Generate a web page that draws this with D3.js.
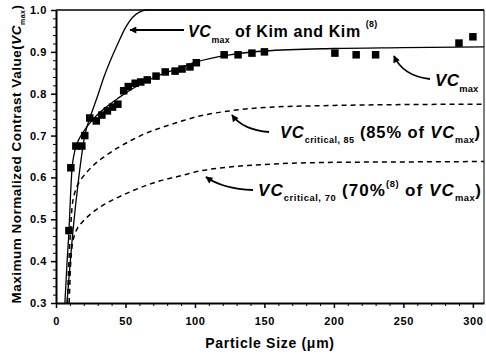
<!DOCTYPE html>
<html>
<head>
<meta charset="utf-8">
<script src="https://cdn.jsdelivr.net/npm/d3@7"></script>
<style>
  body { margin: 0; background: #fff; }
  text { font-family: "Liberation Sans", Arial, sans-serif; font-weight: bold; fill: #000; }
</style>
</head>
<body>
<svg id="chart" width="486" height="354"></svg>
<script>
// measured points (particle size in um, normalized contrast value)
const particleSize = [9.3, 10.7, 14.3, 18.6, 20.7, 24.3, 29, 33, 37, 40.7, 44.5, 48.7, 52, 57, 61, 65.7,
  72, 78.6, 85.7, 90.7, 96.4, 101, 121, 131, 141, 150, 200.7, 216, 230, 290, 300];
const vcMax = [0.473, 0.623, 0.675, 0.675, 0.70, 0.742, 0.735, 0.749, 0.759, 0.768, 0.775, 0.807, 0.817,
  0.825, 0.828, 0.833, 0.842, 0.852, 0.854, 0.859, 0.864, 0.874, 0.893, 0.893, 0.897, 0.90, 0.897,
  0.893, 0.893, 0.921, 0.936];

// fitted VCmax curve
const fitCurve = [[6.4, 0.30], [8, 0.40], [9.3, 0.47], [10.5, 0.56], [11.5, 0.62], [13, 0.655], [15, 0.68],
  [18, 0.70], [22, 0.72], [27, 0.74], [35, 0.765], [45, 0.79], [55, 0.812], [65, 0.83], [75, 0.845],
  [90, 0.863], [100, 0.875], [125, 0.893], [150, 0.902], [200, 0.908], [250, 0.91], [308, 0.912]];

// VCmax of Kim and Kim
const kimCurve = [[7.9, 0.30], [12.1, 0.468], [16.4, 0.60], [20.7, 0.70], [25, 0.748], [30, 0.795],
  [34.3, 0.838], [39, 0.878], [44.3, 0.918], [50, 0.958], [55, 0.982], [60, 0.995], [65, 1.0], [308, 1.0]];

// VCcritical, 85
const crit85Curve = [[8.2, 0.30], [9.3, 0.40], [10.5, 0.476], [11.5, 0.527], [13, 0.557], [15, 0.578],
  [18, 0.595], [22, 0.612], [27, 0.629], [35, 0.650], [45, 0.672], [55, 0.690], [65, 0.706], [75, 0.718],
  [90, 0.734], [100, 0.744], [125, 0.759], [150, 0.767], [200, 0.772], [250, 0.774], [308, 0.775]];

// VCcritical, 70
const crit70Curve = [[9.5, 0.30], [10.5, 0.392], [11.5, 0.434], [13, 0.459], [15, 0.476], [18, 0.49],
  [22, 0.504], [27, 0.518], [35, 0.536], [45, 0.553], [55, 0.568], [65, 0.581], [75, 0.592], [90, 0.604],
  [100, 0.613], [125, 0.625], [150, 0.631], [200, 0.636], [250, 0.637], [308, 0.638]];

const xTicks = [0, 50, 100, 150, 200, 250, 300];
const yTicks = [0.3, 0.4, 0.5, 0.6, 0.7, 0.8, 0.9, 1.0];

const svg = d3.select('#chart');

const x = d3.scaleLinear().domain([0, 308]).range([56, 484]);
const y = d3.scaleLinear().domain([0.3, 1.0]).range([303, 10]);

// minor ticks
const xMinor = d3.range(0, 308, 10).filter(v => xTicks.indexOf(v) < 0);
const yMinor = d3.range(0.32, 1.0, 0.02).filter(v => yTicks.every(t => Math.abs(t - v) > 0.001));

svg.append('g')
  .attr('transform', 'translate(0,' + y(0.3) + ')')
  .call(d3.axisBottom(x).tickValues(xMinor).tickSize(3).tickFormat(''))
  .call(g => g.select('.domain').remove());
svg.append('g')
  .attr('transform', 'translate(' + x(0) + ',0)')
  .call(d3.axisLeft(y).tickValues(yMinor).tickSize(3).tickFormat(''))
  .call(g => g.select('.domain').remove());

// major axes
const xAxis = svg.append('g')
  .attr('transform', 'translate(0,' + y(0.3) + ')')
  .call(d3.axisBottom(x).tickValues(xTicks).tickSize(5).tickPadding(9).tickSizeOuter(0));
xAxis.select('.domain').attr('stroke-width', 2);
xAxis.selectAll('.tick line').attr('stroke-width', 1.5);
xAxis.selectAll('text').attr('font-size', 11).attr('letter-spacing', 0.6);

const yAxis = svg.append('g')
  .attr('transform', 'translate(' + x(0) + ',0)')
  .call(d3.axisLeft(y).tickValues(yTicks).tickSize(5).tickPadding(4).tickSizeOuter(0)
    .tickFormat(d3.format('.1f')));
yAxis.select('.domain').attr('stroke-width', 2);
yAxis.selectAll('.tick line').attr('stroke-width', 1.5);
yAxis.selectAll('text').attr('font-size', 11).attr('letter-spacing', 0.6);

// frame top and right
svg.append('line').attr('x1', x(0)).attr('x2', x(308)).attr('y1', y(1)).attr('y2', y(1))
  .attr('stroke', '#000').attr('stroke-width', 1.5);
svg.append('line').attr('x1', x(308)).attr('x2', x(308)).attr('y1', y(1)).attr('y2', y(0.3))
  .attr('stroke', '#000').attr('stroke-width', 1);

const line = d3.line().x(d => x(d[0])).y(d => y(d[1])).curve(d3.curveMonotoneX);

svg.append('path').datum(crit85Curve).attr('d', line)
  .attr('fill', 'none').attr('stroke', '#000').attr('stroke-width', 1.5).attr('stroke-dasharray', '5,4');
svg.append('path').datum(crit70Curve).attr('d', line)
  .attr('fill', 'none').attr('stroke', '#000').attr('stroke-width', 1.5).attr('stroke-dasharray', '5,4');
svg.append('path').datum(kimCurve).attr('d', line)
  .attr('fill', 'none').attr('stroke', '#000').attr('stroke-width', 1.3);
svg.append('path').datum(fitCurve).attr('d', line)
  .attr('fill', 'none').attr('stroke', '#000').attr('stroke-width', 1.3);

// squares
const sq = 7.5;
svg.selectAll('rect.pt')
  .data(particleSize.map((s, i) => [s, vcMax[i]]))
  .enter()
  .append('rect')
  .attr('class', 'pt')
  .attr('x', d => x(d[0]) - sq / 2)
  .attr('y', d => y(d[1]) - sq / 2)
  .attr('width', sq)
  .attr('height', sq)
  .attr('fill', '#000');

// arrow marker
svg.append('defs').append('marker')
  .attr('id', 'head')
  .attr('viewBox', '0 0 10 10')
  .attr('refX', 9).attr('refY', 5)
  .attr('markerWidth', 9).attr('markerHeight', 7)
  .attr('markerUnits', 'userSpaceOnUse')
  .attr('orient', 'auto')
  .append('path').attr('d', 'M0,0L10,5L0,10z').attr('fill', '#000');

const arrows = [
  'M184,30 L130,30',
  'M430,79 Q403,76 394,56',
  'M269,132 Q243,130 232,115',
  'M253,190 Q223,189 206,177'
];
svg.selectAll('path.arrow').data(arrows).enter().append('path')
  .attr('class', 'arrow')
  .attr('d', d => d)
  .attr('fill', 'none').attr('stroke', '#000').attr('stroke-width', 1.8)
  .attr('marker-end', 'url(#head)');

// labels with sub/superscripts
function label(px, py, parts, size, ls, anchor) {
  const t = svg.append('text').attr('x', px).attr('y', py).attr('font-size', size)
    .attr('text-anchor', anchor || 'start');
  parts.forEach(p => {
    const ts = t.append('tspan').text(p.t);
    if (p.i) ts.attr('font-style', 'italic');
    if (p.sub) ts.attr('font-size', size * 0.55).attr('dy', p.dy).attr('letter-spacing', ls / 2);
    else {
      if (p.dy) ts.attr('dy', p.dy);
      ts.attr('letter-spacing', ls);
    }
  });
  return t;
}

label(188, 37, [
  { t: 'VC', i: true },
  { t: 'max', sub: true, dy: 6 },
  { t: ' of Kim and Kim ', dy: -6 },
  { t: '(8)', sub: true, dy: -10 }
], 16, 0.6);

label(435, 86, [
  { t: 'VC', i: true },
  { t: 'max', sub: true, dy: 6 }
], 17, 0.3);

label(481, 138, [
  { t: 'VC', i: true },
  { t: 'critical, 85', sub: true, dy: 5 },
  { t: ' (85% of ', dy: -5 },
  { t: 'VC', i: true },
  { t: 'max', sub: true, dy: 5 },
  { t: ')', dy: -5 }
], 16.5, 0.9, 'end');

label(482, 196, [
  { t: 'VC', i: true },
  { t: 'critical, 70', sub: true, dy: 5 },
  { t: ' (70%', dy: -5 },
  { t: '(8)', sub: true, dy: -9 },
  { t: ' of ', dy: 9 },
  { t: 'VC', i: true },
  { t: 'max', sub: true, dy: 5 },
  { t: ')', dy: -5 }
], 17, 1.1, 'end');

// axis titles
svg.append('text')
  .attr('x', 270).attr('y', 348)
  .attr('text-anchor', 'middle')
  .attr('font-size', 14)
  .attr('letter-spacing', 0.7)
  .text('Particle Size (\u03bcm)');

const yt = svg.append('text')
  .attr('transform', 'translate(21,154) rotate(-90)')
  .attr('text-anchor', 'middle')
  .attr('font-size', 13.5)
  .attr('letter-spacing', 0.5);
yt.append('tspan').text('Maximum Normalized Contrast Value(');
yt.append('tspan').text('VC').attr('font-style', 'italic');
yt.append('tspan').text('max').attr('font-size', 7).attr('dy', 4);
yt.append('tspan').text(')').attr('dy', -4);
</script>
</body>
</html>
